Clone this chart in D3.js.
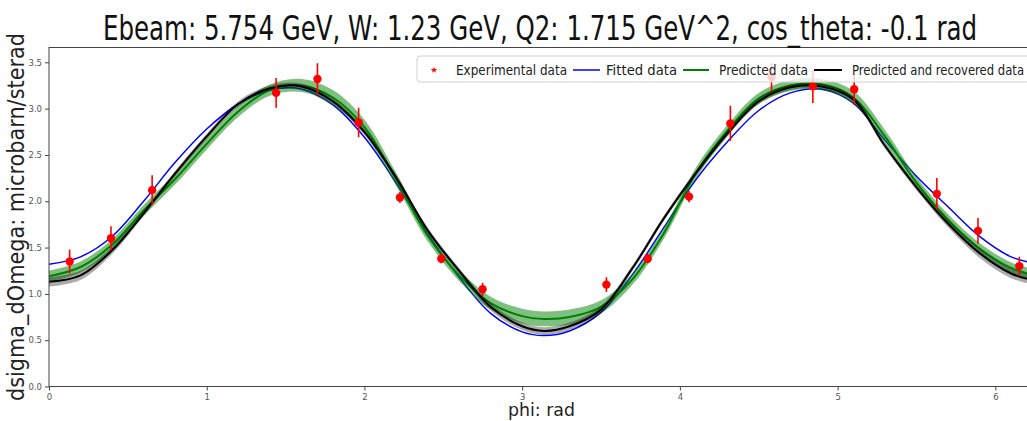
<!DOCTYPE html>
<html><head><meta charset="utf-8">
<script src="https://cdn.jsdelivr.net/npm/d3@7"></script>
<style>html,body{margin:0;padding:0;background:#fff;overflow:hidden}</style>
</head><body><svg id="c" width="1027" height="421"></svg>
<script>
const titleText = "Ebeam: 5.754 GeV, W: 1.23 GeV, Q2: 1.715 GeV^2, cos_theta: -0.1 rad";
const xLabel = "phi: rad";
const yLabel = "dsigma_dOmega: microbarn/sterad";
const xTicks = [0,1,2,3,4,5,6];
const yTicks = [0.0,0.5,1.0,1.5,2.0,2.5,3.0,3.5];
const legendLabels = ["Experimental data","Fitted data","Predicted data","Predicted and recovered data"];

// experimental data
const expPhi = [0.131,0.393,0.654,1.440,1.702,1.963,2.225,2.487,2.749,3.534,3.796,4.058,4.320,4.581,4.843,5.105,5.629,5.890,6.152];
const expVal = [1.35,1.60,2.12,3.17,3.32,2.85,2.04,1.38,1.05,1.10,1.38,2.05,2.84,3.34,3.24,3.21,2.08,1.68,1.30];
const expErr = [0.13,0.13,0.16,0.16,0.17,0.16,0.06,0.05,0.07,0.08,0.05,0.06,0.19,0.15,0.18,0.17,0.17,0.14,0.10];

// curves
const phiGrid = [0,0.2,0.4,0.6,0.8,1.0,1.2,1.4,1.6,1.8,2.0,2.2,2.4,2.6,2.8,3.0,3.14,3.3,3.5,3.7,3.9,4.1,4.3,4.5,4.7,4.9,5.1,5.3,5.5,5.7,5.9,6.1,6.283];
const fitted = [1.32,1.40,1.62,2.00,2.42,2.78,3.05,3.20,3.21,3.04,2.69,2.20,1.65,1.18,0.79,0.59,0.55,0.60,0.80,1.21,1.72,2.23,2.64,2.98,3.17,3.21,3.06,2.66,2.27,1.94,1.62,1.40,1.32];
const predicted = [1.19,1.29,1.53,1.90,2.24,2.62,2.97,3.20,3.25,3.12,2.80,2.24,1.63,1.20,0.90,0.76,0.73,0.75,0.86,1.16,1.66,2.30,2.76,3.11,3.25,3.26,3.12,2.70,2.20,1.80,1.49,1.28,1.19];
const predictedErr = [0.06,0.06,0.06,0.06,0.06,0.06,0.06,0.06,0.07,0.08,0.08,0.07,0.06,0.06,0.07,0.08,0.08,0.08,0.07,0.06,0.06,0.06,0.06,0.06,0.06,0.06,0.07,0.07,0.06,0.06,0.06,0.06,0.06];
const recovered = [1.13,1.20,1.47,1.87,2.30,2.70,3.05,3.22,3.24,3.08,2.75,2.26,1.69,1.25,0.86,0.65,0.60,0.65,0.83,1.28,1.82,2.30,2.73,3.08,3.23,3.24,3.10,2.60,2.15,1.76,1.44,1.22,1.13];
const recoveredErr = [0.05,0.05,0.04,0.03,0.03,0.03,0.03,0.03,0.03,0.03,0.03,0.03,0.03,0.03,0.04,0.04,0.04,0.04,0.04,0.03,0.03,0.03,0.03,0.03,0.03,0.03,0.03,0.03,0.03,0.04,0.05,0.05,0.05];

const svg = d3.select("#c");
const L = 49, R = 1040, T = 47.5, B = 386.5;
const x = d3.scaleLinear().domain([0, 2*Math.PI]).range([L, R]);
const y = d3.scaleLinear().domain([0, 3.66]).range([B, T]);
const font = "'DejaVu Sans', sans-serif";

svg.append("defs").append("clipPath").attr("id","clip")
  .append("rect").attr("x",L).attr("y",T).attr("width",R-L).attr("height",B-T);

const plot = svg.append("g").attr("clip-path","url(#clip)");
const curve = d3.curveCatmullRom.alpha(0.5);
const grid = phiGrid.map((p,i)=>i);
const line = arr => d3.line().x(i=>x(phiGrid[i])).y(i=>y(arr[i])).curve(curve)(grid);
const band = (arr,err) => d3.area().x(i=>x(phiGrid[i])).y0(i=>y(arr[i]-err[i])).y1(i=>y(arr[i]+err[i])).curve(curve)(grid);

plot.append("path").attr("d", line(fitted)).attr("fill","none").attr("stroke","#0000ff").attr("stroke-width",1.5);
plot.append("path").attr("d", band(predicted,predictedErr)).attr("fill","#008000").attr("fill-opacity",0.5);
plot.append("path").attr("d", line(predicted)).attr("fill","none").attr("stroke","#008000").attr("stroke-width",2);
plot.append("path").attr("d", band(recovered,recoveredErr)).attr("fill","#000").attr("fill-opacity",0.33);
plot.append("path").attr("d", line(recovered)).attr("fill","none").attr("stroke","#000").attr("stroke-width",2);

const pts = plot.append("g");
expPhi.forEach((p,i)=>{
  pts.append("line").attr("x1",x(p)).attr("x2",x(p)).attr("y1",y(expVal[i]-expErr[i])).attr("y2",y(expVal[i]+expErr[i]))
    .attr("stroke","#ff0000").attr("stroke-width",1.6);
  pts.append("circle").attr("cx",x(p)).attr("cy",y(expVal[i])).attr("r",4.2).attr("fill","#ff0000");
});

// frame
svg.append("rect").attr("x",L).attr("y",T).attr("width",R-L).attr("height",B-T)
  .attr("fill","none").attr("stroke","#444").attr("stroke-width",1);

// axes
const xa = svg.append("g").attr("transform",`translate(0,${B})`)
  .call(d3.axisBottom(x).tickValues(xTicks).tickFormat(d3.format("d")).tickSize(4).tickPadding(3));
const ya = svg.append("g").attr("transform",`translate(${L},0)`)
  .call(d3.axisLeft(y).tickValues(yTicks).tickFormat(d3.format(".1f")).tickSize(4).tickPadding(3));
[xa,ya].forEach(a=>{
  a.select(".domain").remove();
  a.selectAll("line").attr("stroke","#444");
  a.selectAll("text").attr("font-family",font).attr("font-size",8.5).attr("fill","#555");
});

// title & labels
svg.append("text").attr("x",103).attr("y",40).attr("font-family",font).attr("font-size",33)
  .attr("textLength",874).attr("lengthAdjust","spacingAndGlyphs").attr("fill","#111").text(titleText);
svg.append("text").attr("x",508).attr("y",416).attr("font-family",font).attr("font-size",17)
  .attr("textLength",67).attr("lengthAdjust","spacingAndGlyphs").attr("fill","#222").text(xLabel);
svg.append("text").attr("transform","translate(24,401) rotate(-90)").attr("font-family",font).attr("font-size",23)
  .attr("textLength",368).attr("lengthAdjust","spacingAndGlyphs").attr("fill","#222").text(yLabel);

// legend
const lg = svg.append("g");
lg.append("rect").attr("x",417).attr("y",56).attr("width",625).attr("height",26).attr("rx",3)
  .attr("fill","#fff").attr("fill-opacity",0.8).attr("stroke","#d0d0d0");
const ly = 70;
lg.append("path").attr("d", d3.symbol().type(d3.symbolStar).size(14)()).attr("transform",`translate(434,${ly})`).attr("fill","#ff0000");
const lineEntries = [[573,600,"#0000ff",1.5],[683,709,"#008000",2],[814,842,"#000",2]];
lineEntries.forEach(e=>lg.append("line").attr("x1",e[0]).attr("x2",e[1]).attr("y1",ly).attr("y2",ly).attr("stroke",e[2]).attr("stroke-width",e[3]));
const textPos = [[456,111],[606,71],[719,89],[852,172]];
legendLabels.forEach((t,i)=>lg.append("text").attr("x",textPos[i][0]).attr("y",ly+5).attr("font-family",font).attr("font-size",13.5)
  .attr("textLength",textPos[i][1]).attr("lengthAdjust","spacingAndGlyphs").attr("fill","#222").text(t));
</script></body></html>
